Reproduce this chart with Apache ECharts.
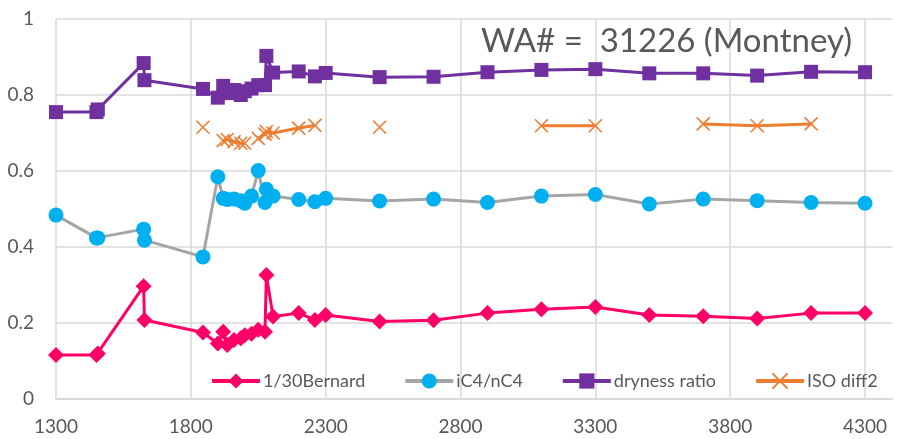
<!DOCTYPE html>
<html>
<head>
<meta charset="utf-8">
<script src="https://cdn.jsdelivr.net/npm/echarts@6/dist/echarts.min.js"></script>
<style>html,body{margin:0;padding:0;background:#fff;}#c{width:922px;height:439px;}</style>
</head>
<body>
<div id="c"></div>
<script>
var depths = [1300, 1450, 1455, 1625, 1628, 1845, 1900, 1920, 1935, 1960, 1985, 2000, 2025, 2050, 2075, 2080, 2105, 2200, 2260, 2300, 2500, 2700, 2900, 3100, 3300, 3500, 3700, 3900, 4100, 4300];
var bernard = [0.116, 0.116, 0.120, 0.297, 0.208, 0.175, 0.146, 0.177, 0.142, 0.155, 0.160, 0.168, 0.172, 0.182, 0.177, 0.326, 0.217, 0.226, 0.208, 0.221, 0.204, 0.207, 0.226, 0.236, 0.242, 0.221, 0.218, 0.212, 0.226, 0.226];
var ic4nc4 = [0.484, 0.424, 0.424, 0.447, 0.418, 0.374, 0.585, 0.528, 0.525, 0.526, 0.522, 0.515, 0.534, 0.601, 0.517, 0.552, 0.534, 0.525, 0.519, 0.528, 0.521, 0.526, 0.517, 0.534, 0.538, 0.513, 0.526, 0.522, 0.517, 0.515];
var dryness = [0.755, 0.755, 0.762, 0.884, 0.839, 0.816, 0.793, 0.824, 0.805, 0.813, 0.800, 0.810, 0.817, 0.826, 0.826, 0.903, 0.859, 0.862, 0.849, 0.858, 0.847, 0.848, 0.860, 0.866, 0.868, 0.857, 0.857, 0.851, 0.861, 0.860];
var isoDiff2 = [null, null, null, null, null, 0.715, null, 0.680, 0.683, 0.677, 0.673, 0.673, null, 0.686, 0.697, 0.704, 0.700, 0.713, 0.720, null, 0.715, null, null, 0.719, 0.719, null, 0.724, 0.719, 0.724, null];
var xTicks = [1300, 1800, 2300, 2800, 3300, 3800, 4300];
var seriesNames = ['1/30Bernard', 'iC4/nC4', 'dryness ratio', 'ISO diff2'];
var titleText = 'WA# =  31226 (Montney)';

function pairs(vals) {
  return depths.map(function (d, i) { return [d, vals[i]]; });
}
var FONT = 'Lato';
var chart = echarts.init(document.getElementById('c'));
chart.setOption({
  animation: false,
  backgroundColor: '#fff',
  textStyle: { fontFamily: FONT },
  title: {
    text: titleText, left: 476, top: 20,
    textStyle: { fontFamily: FONT, fontSize: 33, fontWeight: 'normal', color: '#595959' }
  },
  grid: { left: 56, right: 30, top: 19, bottom: 40, containLabel: false },
  legend: {
    left: 205, top: 367, itemWidth: 48, itemHeight: 19, itemGap: 38,
    lineStyle: { width: 4 },
    textStyle: { fontFamily: FONT, fontSize: 18, color: '#595959', padding: [0, 0, 0, -2] },
    data: seriesNames
  },
  xAxis: {
    type: 'value', min: 1300, max: 4400,
    axisLine: { show: true, onZero: false, lineStyle: { color: '#D9D9D9', width: 2 } },
    axisTick: { show: false, customValues: xTicks },
    axisLabel: {
      customValues: xTicks, color: '#595959', fontSize: 19, margin: 18, fontFamily: FONT,
      formatter: function (v) { return String(v); }
    },
    splitLine: { show: true, lineStyle: { color: '#D9D9D9', width: 1.5 } }
  },
  yAxis: {
    type: 'value', min: 0, max: 1, interval: 0.2,
    axisLine: { show: false },
    axisTick: { show: false },
    axisLabel: { color: '#595959', fontSize: 19, margin: 22, fontFamily: FONT },
    splitLine: { show: true, lineStyle: { color: '#D9D9D9', width: 1.5 } }
  },
  series: [
    {
      name: seriesNames[0], type: 'line', data: pairs(bernard),
      symbol: 'diamond', symbolSize: 16,
      itemStyle: { color: '#FF0066' }, lineStyle: { color: '#FF0066', width: 3 }, z: 4
    },
    {
      name: seriesNames[1], type: 'line', data: pairs(ic4nc4),
      symbol: 'circle', symbolSize: 15,
      itemStyle: { color: '#00B0F0' }, lineStyle: { color: '#A5A5A5', width: 3 }, z: 3
    },
    {
      name: seriesNames[2], type: 'line', data: pairs(dryness),
      symbol: 'rect', symbolSize: 14,
      itemStyle: { color: '#7030A0' }, lineStyle: { color: '#7030A0', width: 3 }, z: 2
    },
    {
      name: seriesNames[3], type: 'line', data: pairs(isoDiff2),
      symbol: 'path://M0,0L10,10M10,0L0,10', symbolSize: 13,
      itemStyle: { color: '#ED7D31', borderColor: '#ED7D31', borderWidth: 1.6 },
      lineStyle: { color: '#ED7D31', width: 3 }, z: 1
    }
  ]
});
</script>
</body>
</html>
